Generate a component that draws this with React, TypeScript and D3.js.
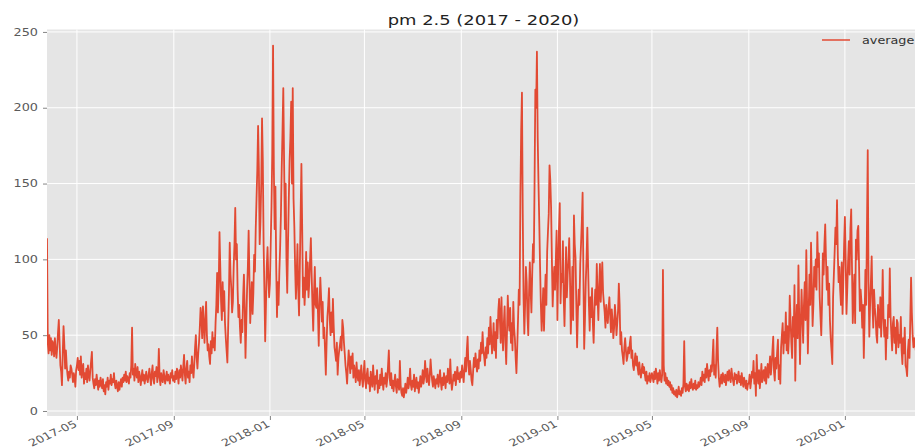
import React, { useEffect, useRef } from "react";
import * as d3 from "d3";

// daily pm 2.5 averages (one row per month)
const firstDay2017 = new Date(2017, 2, 24);
const pm2017 = [
  114, 45, 38, 50, 40, 48, 37, 46,
  44, 36, 48, 40, 35, 42, 52, 60, 45, 30, 26, 17, 38, 56, 44, 28, 40, 30, 24, 20, 26, 22, 30, 28, 24, 19, 25, 22, 16, 27,
  30, 35, 27, 33, 24, 36, 22, 28, 31, 18, 25, 21, 28, 19, 30, 24, 20, 27, 33, 39, 22, 18, 15, 21, 17, 24, 19, 14, 20, 16, 22,
  18, 15, 21, 13, 17, 11, 19, 16, 22, 14, 20, 18, 24, 17, 21, 19, 25, 18, 15, 20, 16, 13, 19, 14, 18, 21, 16, 22, 19, 24,
  20, 26, 19, 23, 21, 18, 25, 22, 30, 55, 24, 28, 20, 31, 25, 22, 29, 19, 26, 23, 17, 22, 27, 20, 24, 18, 22, 26, 21, 19, 24,
  28, 22, 17, 25, 30, 21, 18, 26, 23, 29, 19, 24, 41, 22, 17, 25, 21, 19, 27, 23, 18, 22, 26, 20, 24, 21, 18, 25, 22, 27, 20,
  23, 19, 26, 21, 28, 24, 18, 27, 22, 30, 25, 20, 29, 37, 24, 18, 28, 33, 22, 26, 19, 30, 25, 36, 27, 22, 31, 42, 50, 35,
  28, 38, 45, 55, 68, 62, 48, 69, 58, 45, 60, 72, 50, 40, 44, 36, 31, 46, 38, 52, 42, 48, 40, 58, 70, 91, 65, 82, 118, 95, 72,
  60, 85, 66, 79, 58, 48, 40, 32, 55, 78, 111, 90, 81, 65, 72, 95, 110, 134, 100, 110, 80, 62, 70, 55, 45, 60, 52, 75, 90, 68,
  35, 58, 80, 95, 119, 88, 58, 72, 85, 64, 78, 103, 92, 120, 140, 159, 188, 160, 110, 125, 150, 193, 165, 110, 80, 46, 70, 95, 108, 88, 75,
];
const pm2018 = [
  84, 110, 135, 170, 241, 160, 120, 148, 95, 62, 85, 70, 92, 108, 130, 160, 185, 213, 165, 120, 150, 100, 78, 110, 140, 165, 180, 204, 150, 213, 140,
  122, 95, 74, 90, 110, 80, 63, 95, 130, 163, 120, 75, 88, 70, 82, 105, 80, 98, 75, 85, 100, 114, 90, 70, 53, 78, 95, 70,
  68, 81, 65, 43, 70, 88, 75, 59, 72, 48, 55, 40, 24, 45, 62, 70, 81, 60, 50, 65, 52, 74, 56, 42, 38, 33, 45, 24, 35, 40, 44,
  49, 40, 60, 55, 45, 38, 30, 25, 18, 30, 40, 33, 25, 36, 28, 38, 22, 30, 26, 19, 32, 24, 20, 27, 17, 23, 30, 21, 16, 25,
  33, 20, 15, 24, 28, 18, 22, 13, 26, 19, 16, 30, 21, 14, 23, 18, 27, 12, 20, 15, 24, 17, 28, 20, 14, 22, 18, 25, 16, 21, 30,
  40, 22, 17, 25, 15, 20, 13, 19, 24, 16, 12, 21, 18, 14, 33, 17, 12, 10, 15, 9, 13, 18, 12, 16, 22, 15, 19, 28, 17, 14,
  20, 16, 24, 13, 18, 22, 15, 19, 12, 17, 23, 16, 20, 27, 18, 22, 33, 25, 19, 28, 21, 17, 24, 34, 26, 20, 16, 23, 19, 15, 21,
  18, 24, 16, 20, 27, 19, 14, 22, 17, 25, 20, 15, 23, 19, 28, 22, 18, 34, 21, 14, 18, 24, 20, 26, 17, 23, 29, 21, 25, 19, 26,
  22, 30, 24, 19, 28, 35, 26, 40, 49, 30, 24, 33, 27, 20, 17, 26, 35, 29, 38, 31, 26, 34, 28, 40, 33, 45, 38, 52, 40, 36,
  30, 42, 35, 48, 38, 55, 44, 62, 50, 38, 45, 58, 40, 52, 35, 60, 48, 66, 74, 60, 45, 75, 52, 40, 58, 69, 45, 31, 52, 76, 60,
  53, 68, 45, 58, 40, 72, 55, 48, 35, 25, 42, 60, 80, 70, 141, 185, 210, 130, 75, 51, 70, 95, 85, 62, 50, 78, 98, 80, 65, 90,
  110, 98, 150, 212, 200, 237, 180, 150, 124, 95, 70, 53, 66, 81, 53, 75, 90, 70, 105, 118, 130, 162, 152, 134, 100, 69, 85, 95, 80, 100, 119,
];
const pm2019 = [
  60, 95, 120, 137, 71, 90, 85, 112, 75, 56, 80, 108, 75, 90, 100, 114, 88, 51, 70, 95, 60, 129, 110, 101, 70, 42, 65, 80, 70, 97, 110,
  125, 144, 90, 41, 60, 85, 100, 121, 95, 70, 53, 75, 62, 81, 58, 45, 66, 80, 70, 97, 75, 60, 82, 97, 72, 85, 98, 78,
  71, 65, 55, 70, 62, 58, 68, 75, 63, 52, 67, 60, 48, 55, 70, 62, 50, 58, 66, 84, 70, 44, 52, 40, 36, 31, 42, 48, 40, 33, 36,
  42, 38, 45, 49, 35, 40, 30, 27, 33, 38, 30, 36, 28, 24, 32, 26, 22, 27, 31, 25, 29, 24, 20, 26, 18, 23, 20, 25, 19, 22,
  25, 22, 19, 26, 21, 28, 24, 18, 25, 20, 27, 22, 19, 24, 93, 30, 20, 25, 18, 22, 17, 20, 16, 19, 14, 17, 12, 15, 11, 13, 10,
  14, 9, 12, 16, 11, 13, 10, 15, 12, 18, 46, 16, 13, 18, 14, 17, 13, 19, 15, 21, 16, 14, 18, 15, 20, 14, 17, 15, 19, 16,
  18, 22, 17, 26, 20, 24, 19, 28, 22, 31, 25, 20, 27, 23, 30, 26, 35, 47, 24, 30, 22, 40, 55, 33, 22, 16, 20, 24, 18, 25, 21,
  19, 24, 17, 22, 26, 20, 27, 22, 19, 28, 23, 20, 17, 25, 21, 24, 18, 22, 26, 19, 23, 17, 25, 20, 16, 22, 19, 15, 20, 14, 18,
  18, 24, 15, 20, 26, 22, 33, 18, 25, 10, 37, 23, 18, 27, 15, 22, 31, 19, 25, 27, 20, 29, 18, 26, 31, 22, 28, 36, 24, 30,
  40, 49, 26, 20, 35, 28, 39, 47, 21, 30, 18, 42, 50, 58, 38, 52, 45, 65, 40, 56, 38, 49, 76, 60, 45, 35, 62, 49, 83, 20, 55,
  70, 48, 96, 62, 31, 58, 80, 62, 45, 70, 85, 60, 106, 72, 38, 65, 90, 70, 111, 85, 56, 70, 95, 82, 100, 80, 118, 95, 104, 75,
  62, 50, 72, 104, 90, 110, 123, 100, 80, 95, 70, 84, 60, 48, 40, 31, 75, 90, 105, 121, 110, 139, 103, 85, 95, 80, 70, 98, 64, 85, 110,
];
const pm2020 = [
  128, 100, 64, 80, 98, 112, 90, 120, 133, 95, 58, 75, 90, 58, 113, 100, 119, 122, 95, 66, 80, 72, 55, 70, 35, 60, 93, 70, 120, 172, 85,
  49, 70, 85, 102, 70, 55, 80, 68, 62, 50, 45, 70, 60, 55, 75, 49, 65, 93, 62, 49, 60, 34, 55, 48, 70, 62, 94, 62, 50,
  40, 58, 62, 45, 55, 38, 60, 58, 42, 50, 45, 62, 40, 31, 48, 38, 55, 30, 28, 23, 40, 47, 35, 60, 88, 65, 50, 42, 48, 45, 40,
];

const yTicks = [0, 50, 100, 150, 200, 250];
const xTickLabels = ["2017-05", "2017-09", "2018-01", "2018-05", "2018-09", "2019-01", "2019-05", "2019-09", "2020-01"];
const chartTitle = "pm 2.5 (2017 - 2020)";
const seriesName = "average";

const W = 915;
const H = 448;
const plot = { left: 47, top: 29.5, right: 915, bottom: 416 };
const SX = 1.28; // the picture's text is stretched sideways
const RED = "#E24A33";
const FONT = "'DejaVu Sans', sans-serif";

export default function App() {
  const ref = useRef<SVGSVGElement>(null);

  useEffect(() => {
    const svg = d3.select(ref.current);
    svg.selectAll("*").remove();

    const values = [...pm2017, ...pm2018, ...pm2019, ...pm2020];
    const data = values.map((v, i) => ({ date: d3.timeDay.offset(firstDay2017, i), value: v }));

    const x = d3.scaleTime()
      .domain([firstDay2017, new Date(2020, 2, 30)])
      .range([plot.left, plot.right]);
    const y = d3.scaleLinear().domain([-3.3, 251.6]).range([plot.bottom, plot.top]);
    const parseMonth = d3.timeParse("%Y-%m");
    const xTicks = xTickLabels.map((s) => parseMonth(s) as Date);

    svg.append("rect")
      .attr("x", plot.left).attr("y", plot.top)
      .attr("width", plot.right - plot.left).attr("height", plot.bottom - plot.top)
      .attr("fill", "#E5E5E5");

    // grid
    const grid = svg.append("g").attr("stroke", "#fff").attr("stroke-width", 1);
    grid.selectAll("line.gy").data(yTicks).enter().append("line")
      .attr("x1", plot.left).attr("x2", plot.right)
      .attr("y1", (d) => y(d)).attr("y2", (d) => y(d));
    grid.selectAll("line.gx").data(xTicks).enter().append("line")
      .attr("y1", plot.top).attr("y2", plot.bottom)
      .attr("x1", (d) => x(d)).attr("x2", (d) => x(d));

    // axes (tick marks only, labels drawn below)
    const yAxis = svg.append("g").attr("transform", `translate(${plot.left},0)`)
      .call(d3.axisLeft(y).tickValues(yTicks).tickSize(4).tickFormat(() => ""));
    const xAxis = svg.append("g").attr("transform", `translate(0,${plot.bottom})`)
      .call(d3.axisBottom(x).tickValues(xTicks).tickSize(4).tickFormat(() => ""));
    [yAxis, xAxis].forEach((a) => {
      a.select(".domain").remove();
      a.selectAll(".tick line").attr("stroke", "#666").attr("stroke-width", 0.8);
    });

    svg.append("g").selectAll("text").data(yTicks).enter().append("text")
      .attr("transform", (d) => `translate(${plot.left - 9},${y(d) + 3.6}) scale(${SX},1)`)
      .attr("text-anchor", "end")
      .attr("font-family", FONT).attr("font-size", 10).attr("fill", "#5a5a5a")
      .text((d) => d);

    svg.append("g").selectAll("text").data(xTicks).enter().append("text")
      .attr("transform", (d) => `translate(${x(d) + 1},${plot.bottom + 10}) scale(${SX},1) rotate(-30)`)
      .attr("text-anchor", "end")
      .attr("font-family", FONT).attr("font-size", 10).attr("fill", "#5a5a5a")
      .text((d, i) => xTickLabels[i]);

    // the series
    svg.append("clipPath").attr("id", "plotClip").append("rect")
      .attr("x", plot.left).attr("y", plot.top)
      .attr("width", plot.right - plot.left).attr("height", plot.bottom - plot.top);
    const line = d3.line<{ date: Date; value: number }>()
      .x((d) => x(d.date))
      .y((d) => y(d.value));
    svg.append("path")
      .datum(data)
      .attr("clip-path", "url(#plotClip)")
      .attr("fill", "none")
      .attr("stroke", RED)
      .attr("stroke-width", 1.8)
      .attr("stroke-linejoin", "round")
      .attr("d", line);

    // title
    svg.append("text")
      .attr("transform", `translate(483.5,25) scale(${SX},1)`)
      .attr("text-anchor", "middle")
      .attr("font-family", FONT).attr("font-size", 14).attr("fill", "#222")
      .text(chartTitle);

    // legend
    const legend = svg.append("g");
    legend.append("line")
      .attr("x1", 822).attr("x2", 850).attr("y1", 40).attr("y2", 40)
      .attr("stroke", RED).attr("stroke-width", 1.5);
    legend.append("text")
      .attr("transform", `translate(862,43.5) scale(${SX},1)`)
      .attr("font-family", FONT).attr("font-size", 10).attr("fill", "#333")
      .text(seriesName);
  }, []);

  return (
    <svg ref={ref} width={W} height={H}
      style={{ position: "absolute", left: 0, top: 0, background: "#fff" }} />
  );
}
